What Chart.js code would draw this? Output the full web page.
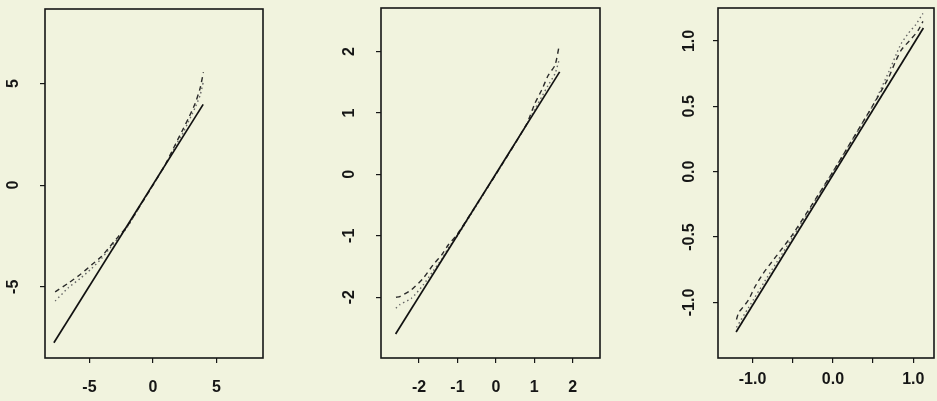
<!DOCTYPE html>
<html>
<head>
<meta charset="utf-8">
<script src="https://cdn.jsdelivr.net/npm/chart.js@4.4.1/dist/chart.umd.min.js"></script>
<style>
  html, body { margin: 0; padding: 0; background: #f1f3de; }
  #wrap { position: relative; width: 937px; height: 401px; overflow: hidden; }
  canvas { position: absolute; top: 0; }
</style>
</head>
<body>
<div id="wrap">
  <canvas id="p1" width="280" height="401" style="left:0px"></canvas>
  <canvas id="p2" width="300" height="401" style="left:320px"></canvas>
  <canvas id="p3" width="297" height="401" style="left:640px"></canvas>
</div>
<script>
// panel 1
const p1Range = [-8.5, 8.66];
const p1Ticks = [-5, 0, 5];
const p1TickLabels = ['-5', '0', '5'];
const p1SolidX = [-7.8, 3.95];
const p1SolidY = [-7.75, 3.97];
const p1DashX = [-7.7, -6.67, -5.75, -4.83, -4.04, -3.39, -2.73, -2.05, -1, 0, 1, 1.6, 1.92, 2.39, 2.78, 3.31, 3.7, 3.97];
const p1DashY = [-5.25, -4.82, -4.41, -3.92, -3.5, -3.02, -2.53, -2.05, -1, 0, 1.05, 1.8, 2.2, 2.78, 3.27, 4.0, 4.74, 5.55];
const p1DotX = [-7.7, -6.67, -5.75, -4.83, -4.04, -3.39, -2.73, -2.05, -1, 0, 1, 1.6, 1.92, 2.39, 2.78, 3.31, 3.7, 3.97];
const p1DotY = [-5.7, -5.05, -4.6, -4.1, -3.6, -3.1, -2.6, -2.1, -1, 0, 1.02, 1.7, 2.1, 2.6, 3.1, 3.8, 4.4, 5.1];

// panel 2
const p2Range = [-2.99, 2.71];
const p2Ticks = [-2, -1, 0, 1, 2];
const p2TickLabels = ['-2', '-1', '0', '1', '2'];
const p2SolidX = [-2.61, 1.66];
const p2SolidY = [-2.6, 1.67];
const p2DashX = [-2.6, -2.5, -2.2, -1.89, -1.63, -1.41, -1.24, -1.0, 0, 0.8, 1.01, 1.19, 1.36, 1.54, 1.64];
const p2DashY = [-2.0, -1.99, -1.88, -1.69, -1.47, -1.31, -1.15, -0.97, 0, 0.82, 1.15, 1.37, 1.61, 1.78, 2.07];
const p2DotX = [-2.6, -2.5, -2.2, -1.89, -1.63, -1.41, -1.24, -1.0, 0, 0.8, 1.01, 1.19, 1.36, 1.54, 1.64];
const p2DotY = [-2.18, -2.12, -2.02, -1.8, -1.57, -1.38, -1.2, -1.0, 0, 0.81, 1.06, 1.26, 1.45, 1.64, 1.85];

// panel 3
const p3XRange = [-1.43, 1.258];
const p3YRange = [-1.425, 1.252];
const p3Ticks = [-1.0, -0.5, 0, 0.5, 1.0];
const p3XTickLabels = ['-1.0', '', '0.0', '', '1.0'];
const p3YTickLabels = ['-1.0', '-0.5', '0.0', '0.5', '1.0'];
const p3SolidX = [-1.205, 1.126];
const p3SolidY = [-1.226, 1.099];
const p3DashX = [-1.2, -1.17, -1.15, -1.05, -0.97, -0.87, -0.76, -0.66, -0.5, 0, 0.5, 0.69, 0.77, 0.85, 0.98, 1.06, 1.12];
const p3DashY = [-1.13, -1.07, -1.06, -0.98, -0.88, -0.78, -0.69, -0.61, -0.48, 0, 0.51, 0.716, 0.83, 0.93, 1.02, 1.08, 1.15];
const p3DotX = [-1.2, -1.05, -0.8, -0.5, 0, 0.5, 0.7, 0.79, 0.85, 0.94, 1.03, 1.12];
const p3DotY = [-1.19, -1.04, -0.79, -0.5, 0, 0.51, 0.77, 0.9, 0.98, 1.06, 1.124, 1.21];

const font = { family: "'Liberation Sans', Arial, sans-serif", size: 16, weight: 'bold' };
const ink = '#161616';

function pts(xs, ys) {
    return xs.map((x, i) => ({ x: x, y: ys[i] }));
}

const boxPlugin = {
    id: 'box',
    afterDraw(chart) {
        const a = chart.chartArea;
        const ctx = chart.ctx;
        ctx.save();
        ctx.strokeStyle = ink;
        ctx.lineWidth = 1.6;
        ctx.strokeRect(a.left, a.top, a.right - a.left, a.bottom - a.top);
        ctx.restore();
    }
};

function makePanel(id, p) {
    const axis = (range, ticks, labels, isY) => ({
        type: 'linear',
        min: range[0],
        max: range[1],
        border: { display: false },
        grid: { display: true, drawOnChartArea: false, drawTicks: true, tickLength: 5, color: ink, lineWidth: 1.2 },
        afterBuildTicks: (s) => { s.ticks = ticks.map(v => ({ value: v })); },
        afterFit: (s) => {
            if (isY) s.width = p.yWidth; else s.height = p.xHeight;
            // keep tick padding from pushing the plot box around
            s.paddingTop = 0; s.paddingBottom = 0; s.paddingLeft = 0; s.paddingRight = 0;
        },
        ticks: Object.assign({
            color: ink,
            font: font,
            autoSkip: false,
            callback: (v, i) => labels[i]
        }, isY
            ? { minRotation: 90, maxRotation: 90, crossAlign: 'center', padding: p.yPad }
            : { maxRotation: 0, padding: p.xPad })
    });

    new Chart(document.getElementById(id), {
        type: 'line',
        data: {
            datasets: [
                { data: pts(p.solid[0], p.solid[1]), borderColor: '#111', borderWidth: 1.7, pointRadius: 0 },
                { data: pts(p.dash[0], p.dash[1]), borderColor: '#2a2a2a', borderWidth: 1.4, borderDash: [5, 4], pointRadius: 0, tension: 0.2 },
                { data: pts(p.dot[0], p.dot[1]), borderColor: '#666', borderWidth: 1.4, borderDash: [1.5, 3], pointRadius: 0, tension: 0.2 }
            ]
        },
        options: {
            responsive: false,
            animation: false,
            devicePixelRatio: 1,
            layout: { padding: { top: p.top, right: p.right, left: 0, bottom: 0 } },
            plugins: { legend: { display: false }, tooltip: { enabled: false } },
            scales: {
                x: axis(p.xRange, p.xTicks, p.xLabels, false),
                y: axis(p.yRange, p.yTicks, p.yLabels, true)
            }
        },
        plugins: [boxPlugin]
    });
}

makePanel('p1', {
    xRange: p1Range, yRange: p1Range, xTicks: p1Ticks, yTicks: p1Ticks,
    xLabels: p1TickLabels, yLabels: p1TickLabels,
    solid: [p1SolidX, p1SolidY], dash: [p1DashX, p1DashY], dot: [p1DotX, p1DotY],
    yWidth: 45, xHeight: 43, top: 9, right: 17, yPad: 19, xPad: 15
});
makePanel('p2', {
    xRange: p2Range, yRange: p2Range, xTicks: p2Ticks, yTicks: p2Ticks,
    xLabels: p2TickLabels, yLabels: p2TickLabels,
    solid: [p2SolidX, p2SolidY], dash: [p2DashX, p2DashY], dot: [p2DotX, p2DotY],
    yWidth: 61, xHeight: 43, top: 8, right: 20, yPad: 19, xPad: 15
});
makePanel('p3', {
    xRange: p3XRange, yRange: p3YRange, xTicks: p3Ticks, yTicks: p3Ticks,
    xLabels: p3XTickLabels, yLabels: p3YTickLabels,
    solid: [p3SolidX, p3SolidY], dash: [p3DashX, p3DashY], dot: [p3DotX, p3DotY],
    yWidth: 78, xHeight: 43, top: 8, right: 3, yPad: 10, xPad: 7
});
</script>
</body>
</html>
